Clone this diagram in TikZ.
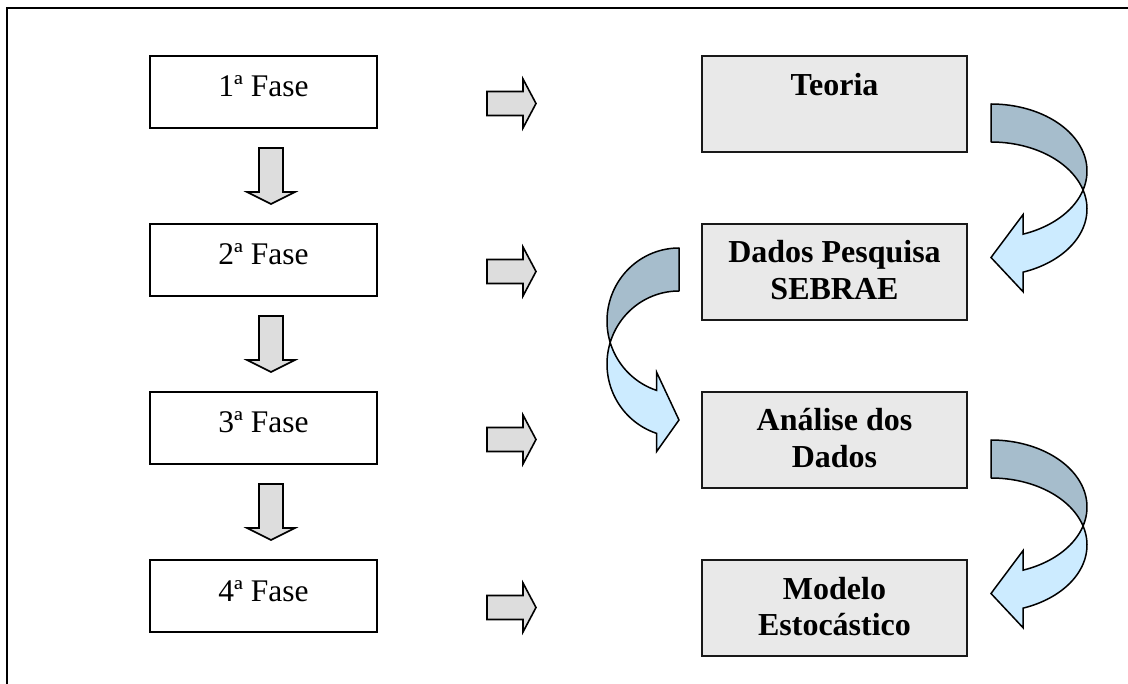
\documentclass[tikz,border=0pt]{standalone}
\usepackage{fontspec}
\setmainfont{Liberation Serif}
\usetikzlibrary{calc}

\definecolor{boxgray}{HTML}{E9E9E9}
\definecolor{arrowgray}{HTML}{DDDDDD}
\definecolor{backblue}{HTML}{A6BDCC}
\definecolor{frontblue}{HTML}{CCEBFF}

\tikzset{
  frameline/.style={draw=black, line width=2pt},
  fasebox/.style={draw=black, line width=2pt, fill=white,
    minimum width=227pt, minimum height=72pt, inner sep=0pt},
  stagebox/.style={draw=black!90, line width=2pt, fill=boxgray,
    minimum width=265pt, minimum height=96pt, inner sep=0pt},
  fasetext/.style={anchor=base, inner sep=0pt, font=\fontsize{31.5}{36}\selectfont},
  stagetext/.style={anchor=base, inner sep=0pt, align=center,
    font=\fontsize{32}{36.5}\selectfont\bfseries},
  blockarrow/.style={draw=black, line width=1.6pt, fill=arrowgray, line join=miter},
  backband/.style={draw=black, line width=1.5pt, fill=backblue, line join=round},
  frontband/.style={draw=black, line width=1.5pt, fill=frontblue, line join=miter},
}

% curved band arrow: #1 x radius, #2 y radius, #3 band thickness,
% #4 head base offset, #5 half head width, #6 tip offset (local frame, y down)
\newcommand\bandarrow[6]{%
  \pgfmathsetmacro\phiA{asin(#3/2/#2)}%
  \pgfmathsetmacro\alA{acos(#4/#1)}%
  \pgfmathsetmacro\hc{#2+#2*sin(\alA)+#3/2}%
  \draw[backband]
    plot[domain=-90:\phiA, samples=50] ({#1*cos(\x)},{#2+#2*sin(\x)})
    -- plot[domain=-\phiA:-90, samples=50] ({#1*cos(\x)},{#2+#3+#2*sin(\x)})
    -- cycle;
  \draw[frontband]
    plot[domain=-\phiA:\alA, samples=50] ({#1*cos(\x)},{#2+#3+#2*sin(\x)})
    -- (#4,{\hc+#5}) -- (0,#6) -- (#4,{\hc-#5})
    -- plot[domain=\alA:\phiA, samples=50] ({#1*cos(\x)},{#2+#2*sin(\x)})
    -- cycle;
}

\begin{document}
\begin{tikzpicture}[x=1pt, y=-1pt]
\useasboundingbox (0,0) rectangle (1128,684);

% outer frame
\draw[frameline] (7,700) -- (7,8) -- (1140,8);

% phase column
\node[fasebox] (f1) at (263.5,92)  {};
\node[fasebox] (f2) at (263.5,260) {};
\node[fasebox] (f3) at (263.5,428) {};
\node[fasebox] (f4) at (263.5,596) {};
\node[fasetext] (f1t) at ($(f1.north)+(0,42)$) {1ª Fase};
\node[fasetext] (f2t) at ($(f2.north)+(0,42)$) {2ª Fase};
\node[fasetext] (f3t) at ($(f3.north)+(0,42)$) {3ª Fase};
\node[fasetext] (f4t) at ($(f4.north)+(0,42)$) {4ª Fase};

% stage column (multi-line labels sit on their last baseline)
\node[stagebox] (s1) at (834.5,104) {};
\node[stagebox] (s2) at (834.5,272) {};
\node[stagebox] (s3) at (834.5,440) {};
\node[stagebox] (s4) at (834.5,608) {};
\node[stagetext] (s1t) at ($(s1.north)+(0,41)$) {Teoria};
\node[stagetext] (s2t) at ($(s2.north)+(0,76.5)$) {Dados Pesquisa\\SEBRAE};
\node[stagetext] (s3t) at ($(s3.north)+(0,76.5)$) {Análise dos\\Dados};
\node[stagetext] (s4t) at ($(s4.north)+(0,76.5)$) {Modelo\\Estocástico};

% down arrows between phases
\foreach \a/\b in {f1/f2, f2/f3, f3/f4}{
  \coordinate (d) at ($(\a.south)!0.5!(\b.north)+(7.5,-28)$);
  \draw[blockarrow, shift={(d)}] (-12,0) -- (12,0) -- (12,44) -- (24,44)
    -- (0,56) -- (-24,44) -- (-12,44) -- cycle;
}

% right arrows from phases to stages
\foreach \a in {f1, f2, f3, f4}{
  \coordinate (r) at ($(\a.center)+(248,11.5)$);
  \draw[blockarrow, shift={(r)}] (-24.5,-12) -- (11.5,-12) -- (11.5,-24.5)
    -- (24.5,0) -- (11.5,24.5) -- (11.5,12) -- (-24.5,12) -- cycle;
}

% curved arrows between stages
\begin{scope}[shift={(991,104)}]
  \bandarrow{96}{67}{38}{32}{38.5}{153.5}
\end{scope}
\begin{scope}[shift={(679,248)}, xscale=-1]
  \bandarrow{72}{73}{43}{22.3}{39.5}{172}
\end{scope}
\begin{scope}[shift={(991,440)}]
  \bandarrow{96}{67}{38}{32}{38.5}{153.5}
\end{scope}

\end{tikzpicture}
\end{document}
